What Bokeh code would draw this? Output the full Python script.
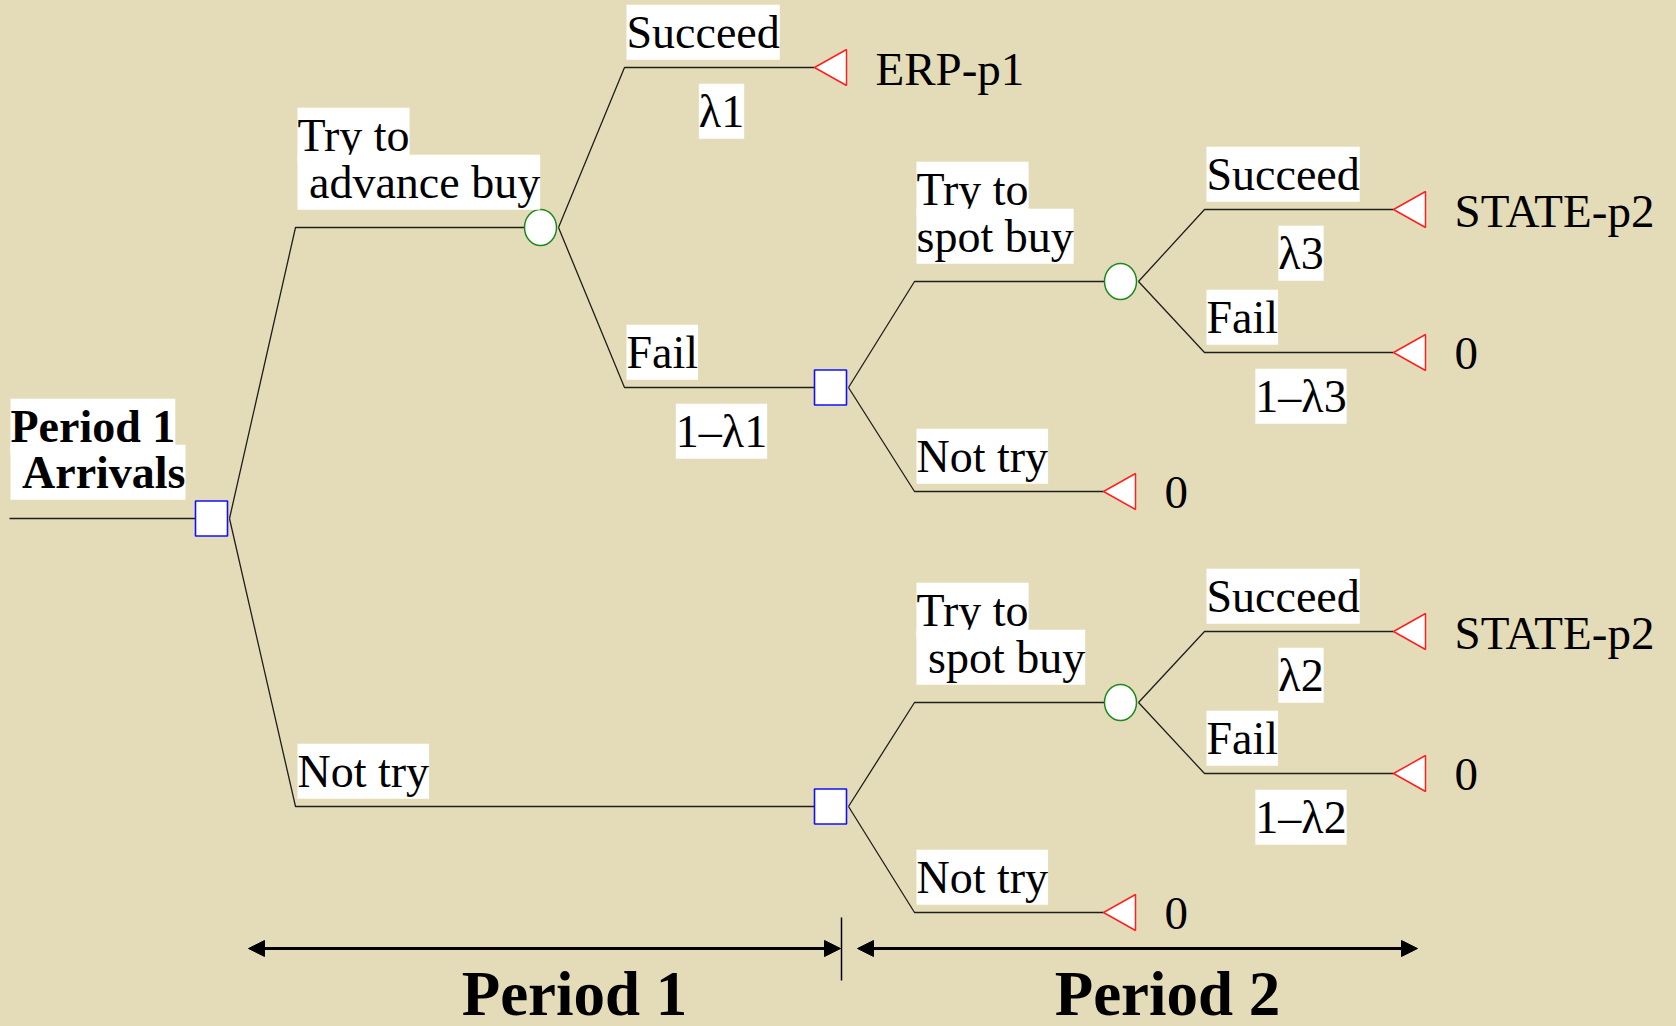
from bokeh.plotting import figure
from bokeh.models import Range1d, Arrow, NormalHead
from bokeh.core.properties import value
from bokeh.embed import file_html
from bokeh.resources import INLINE

NB = "\u00a0"  # keeps the leading blanks of the original labels

# ---------------- data ----------------
root_label = ["Period 1", NB + "Arrivals"]
node_ids = ["A", "B", "C", "D", "E", "F", "T1", "T2", "T3", "T4", "T5", "T6", "T7"]
decision_nodes = ["A", "C", "F"]
chance_nodes = ["B", "D", "E"]
end_nodes = ["T1", "T2", "T3", "T4", "T5", "T6", "T7"]

edge_parent = ["A", "A", "B", "B", "C", "C", "D", "D", "F", "F", "E", "E"]
edge_child = ["B", "F", "T1", "C", "D", "T2", "T3", "T4", "E", "T7", "T5", "T6"]
edge_label = [["Try to", NB + "advance buy"], ["Not try"], ["Succeed"], ["Fail"],
              ["Try to", "spot buy"], ["Not try"], ["Succeed"], ["Fail"],
              ["Try to", NB + "spot buy"], ["Not try"], ["Succeed"], ["Fail"]]
edge_prob = [None, None, "λ1", "1–λ1", None, None, "λ3", "1–λ3", None, None, "λ2", "1–λ2"]

payoff_nodes = ["T1", "T2", "T3", "T4", "T5", "T6", "T7"]
payoff_text = ["ERP-p1", "0", "STATE-p2", "0", "STATE-p2", "0", "0"]

period_labels = ["Period 1", "Period 2"]

# ---------------- layout (page pixels) ----------------
node_x = {"A": 211, "B": 540, "C": 830, "D": 1120, "E": 1120, "F": 830,
          "T1": 830, "T2": 1119, "T3": 1409, "T4": 1409, "T5": 1409, "T6": 1409, "T7": 1119}
node_y = {"A": 518, "B": 227, "C": 387, "D": 281, "E": 702, "F": 806,
          "T1": 67, "T2": 491, "T3": 209, "T4": 352, "T5": 631, "T6": 773, "T7": 912}
HALF_W = 16
HALF_H = 18
BRANCH_DX = 68
ROOT_START = 9
period_arrow_start = [248, 857]
period_arrow_end = [840, 1417]
divider_x = 841
arrow_y = 948
period_baseline = 1012

BG = "#E4DCB8"
FONT = "Liberation Serif"
FS_PX = 46
FS = "%dpx" % FS_PX
PAY_PX = 47
PER_PX = 63
BASE_FIX = -0.29          # baseline correction, in em
LINE_COLOR = "#1e1e1e"


def fix(px):
    return BASE_FIX * px


W, H = 1657, 1026
p = figure(width=W, height=H, output_backend="svg", toolbar_location=None,
           x_range=Range1d(0, W), y_range=Range1d(H, 0),
           min_border=0, background_fill_color=BG, border_fill_color=BG)
p.axis.visible = False
p.grid.visible = False
p.outline_line_color = None

# ---------------- edges ----------------
xs, ys = [], []
xs.append([ROOT_START, node_x["A"] - HALF_W]); ys.append([node_y["A"], node_y["A"]])
label_x, label_y, label_t = [], [], []
prob_x, prob_y, prob_t = [], [], []
for par, ch, lab, prob in zip(edge_parent, edge_child, edge_label, edge_prob):
    px, py = node_x[par], node_y[par]
    cx, cy = node_x[ch], node_y[ch]
    bx = px + HALF_W + BRANCH_DX
    xs.append([px + HALF_W + 2, bx, cx - HALF_W])
    ys.append([py, cy, cy])
    offs = [-22] if len(lab) == 1 else [-79, -32]
    for t, o in zip(lab, offs):
        label_x.append(bx + 2); label_y.append(cy + o + fix(FS_PX)); label_t.append(t)
    if prob:
        prob_x.append((bx + cx - HALF_W) / 2 + 2)
        prob_y.append(cy + 57 + fix(FS_PX))
        prob_t.append(prob)

p.multi_line(xs, ys, line_color=LINE_COLOR, line_width=1.3)

# ---------------- nodes ----------------
p.rect([node_x[n] for n in decision_nodes], [node_y[n] for n in decision_nodes],
       width=2 * HALF_W, height=2 * HALF_H - 1, fill_color="white",
       line_color="#1010FF", line_width=1.6)
p.ellipse([node_x[n] for n in chance_nodes], [node_y[n] for n in chance_nodes],
          width=2 * HALF_W, height=2 * HALF_H, fill_color="white",
          line_color="#1A8A1A", line_width=1.5)
tx = [[node_x[n] - HALF_W, node_x[n] + HALF_W, node_x[n] + HALF_W] for n in end_nodes]
ty = [[node_y[n], node_y[n] - HALF_H, node_y[n] + HALF_H] for n in end_nodes]
p.patches(tx, ty, fill_color="white", line_color="#FF2020", line_width=1.5)

# ---------------- labels ----------------
common = dict(text_font=value(FONT), text_color="black", text_baseline="alphabetic",
              background_fill_color="white", padding=[0, 2])
p.text([10, 10], [node_y["A"] - 79 + fix(FS_PX), node_y["A"] - 33 + fix(FS_PX)],
       text=root_label, text_font_size=FS, text_font_style="bold", text_align="left", **common)
p.text(label_x, label_y, text=label_t, text_font_size=FS, text_align="left", **common)
p.text(prob_x, prob_y, text=prob_t, text_font_size=FS, text_align="center", **common)

p.text([node_x[n] + HALF_W + 29 for n in payoff_nodes],
       [node_y[n] + 15 + fix(PAY_PX) for n in payoff_nodes], text=payoff_text,
       text_font=value(FONT), text_font_size="%dpx" % PAY_PX, text_color="black",
       text_baseline="alphabetic", text_align="left")

# ---------------- period arrows ----------------
for xs0, xe0 in zip(period_arrow_start, period_arrow_end):
    p.add_layout(Arrow(start=NormalHead(size=16, fill_color="black", line_color="black"),
                       end=NormalHead(size=16, fill_color="black", line_color="black"),
                       x_start=xs0, y_start=arrow_y, x_end=xe0, y_end=arrow_y,
                       line_width=3, line_color="black"))
p.segment([divider_x], [arrow_y - 31], [divider_x], [arrow_y + 32],
          line_color="black", line_width=1.5)
p.text([(s + e) / 2 + 30 for s, e in zip(period_arrow_start, period_arrow_end)],
       [period_baseline + fix(PER_PX)] * 2, text=period_labels, text_font=value(FONT),
       text_font_size="%dpx" % PER_PX, text_font_style="bold", text_align="center",
       text_baseline="alphabetic", text_color="black")

html = file_html(p, INLINE)
html = html.replace("<head>", "<head><style>body{background-color:%s;}</style>" % BG, 1)
open("out.html", "w").write(html)
